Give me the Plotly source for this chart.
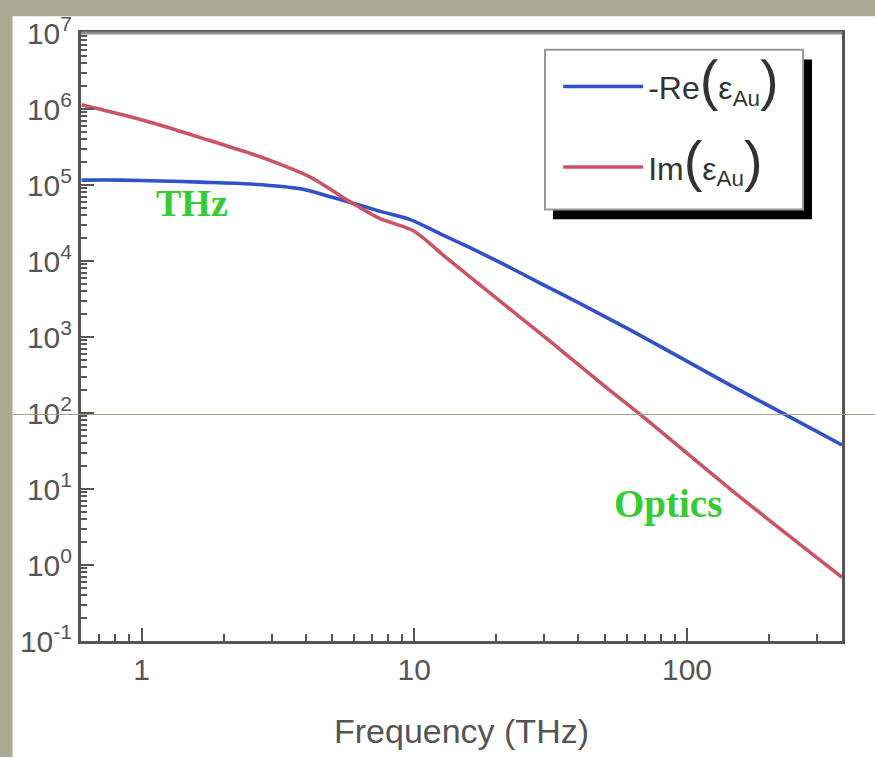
import numpy as np
import plotly.graph_objects as go

# ---- data ----
freq_re = [0.603, 0.838, 1.174, 1.645, 2.51, 3.82, 4.92, 5.83, 7.5, 9.67, 12.4, 16.0, 20.6, 28.9, 40.6, 61.8, 94.3, 144, 225, 370]
re_vals = [1.16e5, 1.16e5, 1.13e5, 1.09e5, 1.03e5, 8.9e4, 7.0e4, 5.9e4, 4.5e4, 3.5e4, 2.3e4, 1.5e4, 9.6e3, 5.13e3, 2.75e3, 1.24e3, 540, 233, 99, 38]

freq_im = [0.603, 0.838, 1.174, 1.645, 2.51, 3.23, 4.16, 5.83, 7.5, 9.91, 13.2, 20.1, 30.7, 50.9, 67.3, 147, 370]
im_vals = [1.14e6, 8.5e5, 6.1e5, 4.2e5, 2.6e5, 1.87e5, 1.27e5, 6.0e4, 3.6e4, 2.5e4, 1.08e4, 3.2e3, 942, 213, 96, 9.4, 0.69]

series_names = [
    "-Re<span style='font-size:56px'>(</span>ε<sub>Au</sub><span style='font-size:56px'>)</span>",
    "Im<span style='font-size:56px'>(</span>ε<sub>Au</sub><span style='font-size:56px'>)</span>",
]

y_tick_vals = [1e-1, 1e0, 1e1, 1e2, 1e3, 1e4, 1e5, 1e6, 1e7]
y_tick_text = ["10<sup>-1</sup>", "10<sup>0</sup>", "10<sup>1</sup>", "10<sup>2</sup>", "10<sup>3</sup>",
               "10<sup>4</sup>", "10<sup>5</sup>", "10<sup>6</sup>", "10<sup>7</sup>"]
x_tick_vals = [1, 10, 100]
x_tick_text = ["1", "10", "100"]
x_minor = [0.7, 0.8, 0.9] + [d * 10 ** k for k in (0, 1) for d in range(2, 10)] + [200, 300]
y_minor = [d * 10.0 ** k for k in range(-1, 7) for d in range(2, 10)]

x_range = [0.6, 370]
y_range = [1e-1, 1e7]

annot_labels = ["THz", "Optics"]

BLUE = "#3050cc"
RED = "#cc5363"
GREEN = "#33cc33"
OLIVE = "#a9a893"
AXC = "#555555"
SANS = "Liberation Sans, Arial"
SERIF = "Liberation Serif, Times New Roman, serif"

fig = go.Figure()
fig.add_trace(go.Scatter(x=freq_re, y=re_vals, mode="lines", name=series_names[0],
                         legendgroup="re", line=dict(color=BLUE, width=3.6, shape="spline", smoothing=0.8)))
fig.add_trace(go.Scatter(x=freq_im, y=im_vals, mode="lines", name=series_names[1],
                         legendgroup="im", line=dict(color=RED, width=3.6, shape="spline", smoothing=0.8)))

fig.update_layout(
    width=875, height=757,
    margin=dict(l=81, r=33, t=23, b=114),
    paper_bgcolor=OLIVE, plot_bgcolor="white",
    showlegend=True,
    legend=dict(x=0.627, y=0.957, xanchor="left", yanchor="top",
                bgcolor="rgba(0,0,0,0)", borderwidth=0,
                font=dict(family=SANS, size=32, color="#333333"),
                tracegroupgap=36, itemwidth=80),
)

fig.update_xaxes(
    type="log", range=[np.log10(x_range[0]), np.log10(x_range[1])],
    tickmode="array", tickvals=x_tick_vals, ticktext=x_tick_text,
    ticks="inside", ticklen=13, tickwidth=2, tickcolor=AXC,
    minor=dict(ticks="inside", ticklen=7, tickwidth=2, tickcolor=AXC, tickvals=x_minor, showgrid=False),
    showline=True, linewidth=3, linecolor=AXC, mirror=True, showgrid=False, zeroline=False,
    tickfont=dict(family=SANS, size=30, color=AXC),
    title=dict(text="Frequency (THz)", font=dict(family=SANS, size=34, color=AXC), standoff=35),
)
fig.update_yaxes(
    type="log", range=[np.log10(y_range[0]), np.log10(y_range[1])],
    tickmode="array", tickvals=y_tick_vals, ticktext=y_tick_text,
    ticks="inside", ticklen=13, tickwidth=2, tickcolor=AXC,
    minor=dict(ticks="inside", ticklen=6, tickwidth=2, tickcolor=AXC, tickvals=y_minor, showgrid=False),
    showline=True, linewidth=3, linecolor=AXC, mirror=True, showgrid=False, zeroline=False,
    tickfont=dict(family=SANS, size=30, color=AXC),
)

shapes = [
    # white panel over the olive background
    dict(type="rect", xref="paper", yref="paper", x0=-0.09, x1=1.06, y0=-0.2, y1=1.0274,
         fillcolor="white", line=dict(width=0), layer="below"),
    # lighter top frame line
    dict(type="line", xref="paper", yref="paper", x0=0, x1=1, y0=1, y1=1,
         line=dict(color="#8c8c8c", width=3), layer="above"),
    # legend shadow and box
    dict(type="rect", xref="paper", yref="paper", x0=0.6202, x1=0.9606, y0=0.6935, y1=0.9565,
         fillcolor="black", line=dict(width=0), layer="above"),
    dict(type="rect", xref="paper", yref="paper", x0=0.6097, x1=0.9488, y0=0.7097, y1=0.9726,
         fillcolor="white", line=dict(color="#999999", width=2), layer="above"),
    # thin horizontal line across the picture at 10^2
    dict(type="line", xref="paper", yref="paper", x0=-0.09, x1=1.06, y0=0.3726, y1=0.3726,
         line=dict(color="#a3a28d", width=1), layer="above"),
]
fig.update_layout(shapes=shapes)

fig.add_annotation(x=np.log10(1.53), y=np.log10(5.8e4), xref="x", yref="y", text="<b>" + annot_labels[0] + "</b>",
                   showarrow=False, font=dict(family=SERIF, size=38, color=GREEN))
fig.add_annotation(x=np.log10(85), y=np.log10(6.4), xref="x", yref="y", text="<b>" + annot_labels[1] + "</b>",
                   showarrow=False, font=dict(family=SERIF, size=39, color=GREEN))

fig.write_html("out.html")
